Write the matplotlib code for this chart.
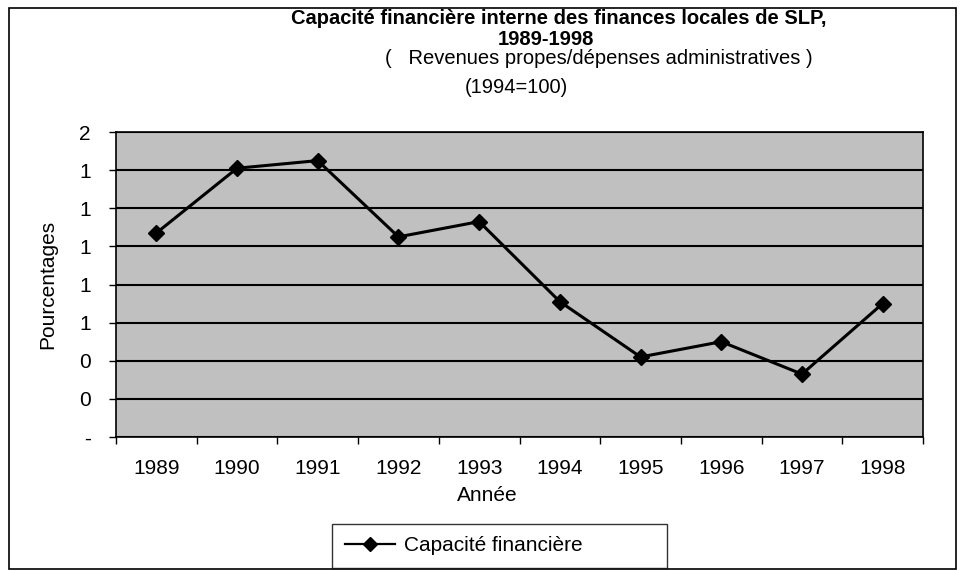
import matplotlib.pyplot as plt
from matplotlib.patches import Rectangle
from matplotlib.ticker import FixedLocator, FuncFormatter

plt.rcParams['font.family'] = ['Liberation Sans', 'DejaVu Sans']

# Séries
annees = ['1989', '1990', '1991', '1992', '1993', '1994', '1995', '1996', '1997', '1998']
capacite = [1.07, 1.41, 1.45, 1.05, 1.13, 0.71, 0.42, 0.50, 0.33, 0.70]
graduations = [0, 0.2, 0.4, 0.6, 0.8, 1.0, 1.2, 1.4, 1.6]

fig = plt.figure(figsize=(9.6, 5.7), dpi=100)
ax = fig.add_axes([0.1208, 0.2333, 0.8407, 0.5351])
ax.set_facecolor('#c0c0c0')

x = [i + 0.5 for i in range(len(annees))]
ax.plot(x, capacite, color='black', lw=2.2, marker='D', markersize=8,
        label='Capacité financière', zorder=3)

ax.set_xlim(0, len(annees))
ax.set_ylim(0, 1.6)
ax.xaxis.set_major_locator(FixedLocator(range(len(annees) + 1)))
ax.xaxis.set_minor_locator(FixedLocator(x))
ax.set_xticklabels([])
ax.set_xticklabels(annees, minor=True)
ax.tick_params(axis='x', which='major', length=5, width=1, direction='out')
ax.tick_params(axis='x', which='minor', length=0, pad=16, labelsize=15)

ax.yaxis.set_major_locator(FixedLocator(graduations))
ax.yaxis.set_major_formatter(FuncFormatter(lambda v, p: '-' if v == 0 else f'{v:.0f}'))
ax.tick_params(axis='y', length=5, width=1, direction='out', pad=13, labelsize=15)
ax.grid(axis='y', color='black', lw=1.5)
ax.set_axisbelow(True)
for s in ax.spines.values():
    s.set_linewidth(1.2)

ax.set_xlabel('Année', fontsize=15, labelpad=1)
ax.xaxis.set_label_coords(0.46, -0.16)
ax.set_ylabel('Pourcentages', fontsize=15, labelpad=16)

# Titres
fig.text(0.582, 0.968, 'Capacité financière interne des finances locales de SLP,',
         ha='center', va='center', fontsize=14.5, fontweight='bold')
fig.text(0.569, 0.931, '1989-1998', ha='center', va='center', fontsize=14.5, fontweight='bold')
fig.text(0.624, 0.897, '(   Revenues propes/dépenses administratives )',
         ha='center', va='center', fontsize=14.5)
fig.text(0.538, 0.847, '(1994=100)', ha='center', va='center', fontsize=14.5)

leg = fig.legend(loc='lower left', bbox_to_anchor=(0.346, 0.004, 0.349, 0.08),
                 mode='expand', fontsize=15, frameon=True, fancybox=False,
                 edgecolor='black', handlelength=2.4, handletextpad=0.45,
                 borderpad=0.6, borderaxespad=0)
leg.get_frame().set_linewidth(1)
leg.legend_handles[0].set_linewidth(1.6)
leg.legend_handles[0].set_markersize(7)

# Cadre du graphique
fig.patches.append(Rectangle((9 / 960, 1 / 570), 947 / 960, 561 / 570, transform=fig.transFigure,
                             fill=False, edgecolor='black', lw=1.2))

fig.savefig('out.png', dpi=100)
